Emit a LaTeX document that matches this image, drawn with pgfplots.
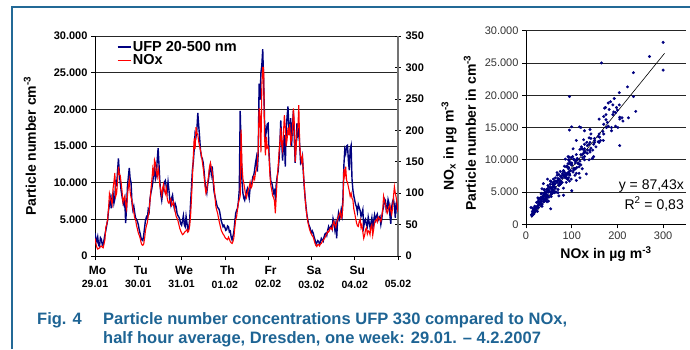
\documentclass[border=0pt]{standalone}
\usepackage{fontspec}
\setmainfont{Liberation Sans}
\usepackage{pgfplots}
\pgfplotsset{compat=1.18}
\usepackage{pgfplotstable}
\definecolor{frameblue}{RGB}{35,105,150}
\definecolor{capblue}{RGB}{30,100,148}
\definecolor{navy}{RGB}{0,0,128}

\pgfplotstableread{
h ufp nox
0 3100 28
0.5 2400 20
1 2000 14
1.5 2600 11
2 1500 12
2.5 1300 13
3 2500 15
3.5 2300 16
4 1600 14
4.5 1400 13
5 2200 19
5.5 2900 26
6 3500 46
6.5 4200 50
7 4900 58
7.5 6200 75
8 7000 99
8.5 7800 92
9 6500 88
9.5 8300 82
10 8600 107
10.5 7200 118
11 7800 132
11.5 10400 95
12 9500 100
12.5 11600 118
13 13300 142
13.5 11200 130
14 10000 128
14.5 8900 116
15 8100 103
15.5 7400 85
16 7000 91
16.5 7700 95
17 4500 82
17.5 6600 75
18 9500 96
18.5 10800 110
19 12000 121
19.5 10500 102
20 10000 93
20.5 7300 88
21 6300 76
21.5 6800 70
22 5900 61
22.5 5200 58
23 5000 49
23.5 4700 43
24 4300 37
24.5 3600 33
25 3100 29
25.5 2500 22
26 2200 18
26.5 2100 17
27 2800 19
27.5 3900 28
28 4900 41
28.5 5300 48
29 5000 53
29.5 6300 64
30 6000 72
30.5 7800 88
31 8600 105
31.5 9200 120
32 10000 138
32.5 11200 127
33 12000 153
33.5 10500 148
34 11000 134
34.5 13100 126
35 14700 140
35.5 12400 128
36 10000 111
36.5 8400 104
37 7600 96
37.5 8600 108
38 9400 114
38.5 10100 104
39 10300 99
39.5 9500 108
40 8800 93
40.5 10100 86
41 9000 84
41.5 7600 88
42 7000 91
42.5 7900 80
43 8300 82
43.5 7200 86
44 6500 79
44.5 7100 70
45 6700 63
45.5 5800 60
46 5500 56
46.5 5300 50
47 5000 44
47.5 4400 40
48 4200 37
48.5 4800 34
49 5500 35
49.5 4300 37
50 4000 39
50.5 5400 40
51 4500 42
51.5 3500 38
52 3800 40
52.5 5000 48
53 7200 64
53.5 9400 92
54 11700 123
54.5 12800 158
55 14500 187
55.5 16700 170
56 16300 205
56.5 17300 196
57 19500 193
57.5 17800 182
58 16200 175
58.5 14400 168
59 13500 161
59.5 13300 150
60 12700 140
60.5 11500 127
61 10000 111
61.5 9200 100
62 8600 105
62.5 9800 118
63 10500 128
63.5 11800 142
64 12400 148
64.5 11200 140
65 12200 134
65.5 10300 124
66 8800 111
66.5 8200 95
67 7600 79
67.5 7000 73
68 6600 68
68.5 6500 60
69 6200 53
69.5 5500 47
70 4800 41
70.5 4400 38
71 4000 35
71.5 4200 33
72 3900 30
72.5 3500 28
73 3600 27
73.5 4100 26
74 4000 30
74.5 3300 27
75 3400 23
75.5 2600 21
76 2200 20
76.5 2700 23
77 3300 29
77.5 4600 45
78 5800 58
78.5 6200 62
79 6500 74
79.5 7400 84
80 9000 90
80.5 19800 95
81 15000 201
81.5 10200 145
82 8600 123
82.5 7900 116
83 7600 107
83.5 8300 98
84 8800 93
84.5 9200 100
85 8600 105
85.5 7900 110
86 9300 117
86.5 9800 108
87 10000 111
87.5 10800 120
88 11000 126
88.5 11700 122
89 12700 133
89.5 13400 138
90 11500 146
90.5 14000 170
91 23500 235
91.5 21300 222
92 25000 165
92.5 26000 270
93 28200 300
93.5 23900 300
94 18500 190
94.5 16300 160
95 17000 190
95.5 18000 172
96 18100 174
96.5 14000 160
97 11700 128
97.5 10200 112
98 10000 105
98.5 9400 96
99 8600 93
99.5 8900 88
100 8000 68
100.5 9800 95
101 10800 123
101.5 11500 140
102 13000 163
102.5 15200 180
103 18500 204
103.5 15800 178
104 13000 169
104.5 15200 196
105 16500 224
105.5 12200 205
106 17000 175
106.5 19000 185
107 20400 204
107.5 17400 192
108 16500 210
108.5 18800 180
109 15000 187
109.5 17700 200
110 19800 235
110.5 16000 212
111 12700 150
111.5 15500 170
112 18100 198
112.5 16600 205
113 17500 240
113.5 15000 176
114 12700 160
114.5 13000 150
115 13600 158
115.5 11500 135
116 9500 114
116.5 8000 92
117 6700 76
117.5 5600 64
118 4900 55
118.5 4300 48
119 4000 42
119.5 3600 38
120 3100 35
120.5 3400 32
121 3100 30
121.5 2600 25
122 2200 20
122.5 1600 17
123 1800 15
123.5 2100 18
124 2000 18
124.5 1600 16
125 1900 19
125.5 2400 20
126 2200 23
126.5 2000 25
127 2600 27
127.5 3000 29
128 3100 33
128.5 2800 35
129 3500 39
129.5 4000 38
130 3600 41
130.5 3900 45
131 4100 44
131.5 3700 42
132 5100 51
132.5 4600 55
133 3600 49
133.5 4400 46
134 2400 54
134.5 4800 58
135 5800 63
135.5 5000 66
136 5400 70
136.5 6300 60
137 5600 63
137.5 8000 85
138 12400 138
138.5 14500 128
139 14000 142
139.5 15000 120
140 15100 117
140.5 13000 110
141 11700 103
141.5 14600 95
142 15100 100
142.5 10500 92
143 9000 89
143.5 8200 75
144 7600 68
144.5 7000 60
145 6700 53
145.5 6000 48
146 7000 47
146.5 6600 55
147 6200 58
147.5 5400 45
148 5800 50
148.5 6300 38
149 4000 28
149.5 4700 33
150 5000 42
150.5 4300 45
151 4000 35
151.5 5300 40
152 4600 39
152.5 3900 34
153 4500 47
153.5 5200 50
154 3600 33
154.5 4800 42
155 5600 53
155.5 4900 56
156 5400 58
156.5 5700 54
157 4900 62
157.5 5200 60
158 5400 58
158.5 4300 55
159 5000 64
159.5 6200 72
160 6700 95
160.5 7800 88
161 7600 82
161.5 6200 75
162 6500 68
162.5 7700 72
163 7200 79
163.5 5600 82
164 4400 72
164.5 6700 66
165 7400 76
165.5 7800 95
166 6800 110
166.5 5200 100
167 7200 93
167.5 7600 84
168 4900 70
}\data

\newcommand{\dl}[2]{{\fontsize{12}{13}\selectfont\hspace*{5pt}#1}\\[1.5pt]{\fontsize{10.5}{12}\selectfont #2}}

\begin{document}
\begin{tikzpicture}
\useasboundingbox (0pt,0pt) rectangle (690pt,349pt);
\draw[frameblue, line width=2pt] (11.7pt,0pt) -- (11.7pt,342pt) -- (690pt,342pt);

% time series, left axis
\begin{axis}[
  at={(95pt,93pt)}, anchor=south west, width=303pt, height=220pt, scale only axis,
  xmin=0, xmax=7, ymin=0, ymax=30000,
  axis x line*=bottom, axis y line*=left,
  axis line style={black, line width=0.8pt, -},
  ymajorgrids, grid style={black!85, line width=0.7pt},
  ytick={0,5000,...,30000},
  xtick={0,1,...,7},
  xticklabels={\dl{Mo}{29.01},\dl{Tu}{30.01},\dl{We}{31.01},\dl{Th}{01.02},\dl{Fr}{02.02},\dl{Sa}{03.02},\dl{Su}{04.02},\dl{\phantom{Mo}}{05.02}},
  xticklabel style={align=center, font=\bfseries, inner sep=2pt, yshift=-4pt},
  tick align=outside, major tick length=4pt,
  tick style={black, line width=0.7pt},
  scaled y ticks=false,
  yticklabel={\pgfmathprintnumber[fixed, 1000 sep={.}, assume math mode=true]{\tick}},
  yticklabel style={font=\fontsize{11}{12}\selectfont\bfseries},
  legend style={at={(0.0716,0.985)}, anchor=north west, draw=none, fill=none,
    font=\fontsize{14.5}{15}\selectfont\bfseries, inner sep=0pt, row sep=-1pt,
    nodes={inner sep=1.5pt}},
  legend image code/.code={\draw[#1] (0pt,0pt) -- (13pt,0pt);},
  legend cell align=left,
]
\addplot[navy, line width=1.4pt] table[x expr=\thisrow{h}/24, y=ufp]{\data};
\addlegendentry{UFP 20-500 nm}
\addlegendimage{red, line width=1.4pt}
\addlegendentry{NOx}
\end{axis}

% time series, right axis
\begin{axis}[
  at={(95pt,93pt)}, anchor=south west, width=303pt, height=220pt, scale only axis,
  xmin=0, xmax=7, ymin=0, ymax=350,
  axis x line=none, axis y line*=right,
  axis line style={black!55, line width=1.3pt, -},
  ytick={0,50,...,350},
  tick align=center, major tick length=6pt,
  tick style={black, line width=0.7pt},
  yticklabel style={font=\fontsize{11}{12}\selectfont\bfseries, xshift=1pt},
  yticklabel={\pgfmathprintnumber[assume math mode=true]{\tick}},
]
\addplot[red, line width=1.1pt] table[x expr=\thisrow{h}/24, y=nox]{\data};
\end{axis}

% scatter
\begin{axis}[
  at={(526pt,124.7pt)}, anchor=south west, width=160pt, height=193.6pt, scale only axis,
  xmin=0, xmax=350, ymin=0, ymax=30000,
  axis x line*=bottom, axis y line*=left,
  axis line style={black, line width=0.8pt, -},
  ymajorgrids, grid style={black!85, line width=0.7pt},
  xtick={0,100,200,300}, ytick={0,5000,...,30000},
  tick align=outside, major tick length=4pt,
  tick style={black, line width=0.7pt},
  scaled y ticks=false,
  yticklabel={\pgfmathprintnumber[fixed, 1000 sep={.}, assume math mode=true]{\tick}},
  xticklabel={\pgfmathprintnumber[assume math mode=true]{\tick}},
  ticklabel style={font=\fontsize{11}{12}\selectfont, text=black!80},
]
\addplot[only marks, mark=*, mark size=1.3pt, navy] table[x=nox, y=ufp]{\data};
\addplot[black, line width=0.6pt] coordinates {(12,1049) (303,26491)};
\end{axis}

% labels
\node[rotate=90, font=\fontsize{14}{16}\selectfont\bfseries] at (30pt,203pt) {Particle number cm\textsuperscript{-3}};
\node[rotate=90, font=\fontsize{14}{16}\selectfont\bfseries] at (449pt,203pt) {NO\textsubscript{x} in µg m\textsuperscript{-3}};
\node[rotate=90, font=\fontsize{14}{16}\selectfont\bfseries] at (470pt,216pt) {Particle number in cm\textsuperscript{-3}};
\node[font=\fontsize{14}{16}\selectfont\bfseries] at (606pt,95pt) {NOx in µg m\textsuperscript{-3}};
\node[anchor=east, font=\fontsize{14}{16}\selectfont, inner sep=0pt] at (684pt,163pt) {y = 87,43x};
\node[anchor=east, font=\fontsize{14}{16}\selectfont, inner sep=0pt] at (684pt,145pt) {R\textsuperscript{2} = 0,83};

% caption
\begin{scope}[every node/.style={anchor=base west, inner sep=0pt, text=capblue, font=\fontsize{16.5}{19}\selectfont\bfseries}]
\node at (37pt,25pt) {Fig. 4};
\node at (103pt,25pt) {Particle number concentrations UFP 330 compared to NOx,};
\node at (103pt,6pt) {half hour average, Dresden, one week: 29.01. – 4.2.2007};
\end{scope}
\end{tikzpicture}
\end{document}
